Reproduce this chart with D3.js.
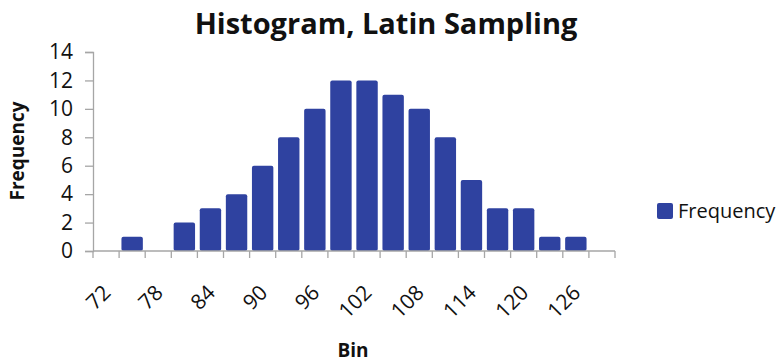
<!DOCTYPE html>
<html>
<head>
<meta charset="utf-8">
<script src="https://cdn.jsdelivr.net/npm/d3@7"></script>
<style>
  body { margin: 0; background: #fff; }
  text { font-family: "Open Sans", "DejaVu Sans", sans-serif; fill: #111; }
</style>
</head>
<body>
<div id="chart"></div>
<script>
// Data
var bins = [72, 75, 78, 81, 84, 87, 90, 93, 96, 99, 102, 105, 108, 111, 114, 117, 120, 123, 126, 129];
var counts = [0, 1, 0, 2, 3, 4, 6, 8, 10, 12, 12, 11, 10, 8, 5, 3, 3, 1, 1, 0];
var yTicks = [0, 2, 4, 6, 8, 10, 12, 14];
var shownLabels = [72, 78, 84, 90, 96, 102, 108, 114, 120, 126];

var width = 783, height = 364;
var barColor = "#2f42a0", axisColor = "#a6a6a6";

var svg = d3.select("#chart").append("svg")
    .attr("width", width)
    .attr("height", height);

var x = d3.scaleBand()
    .domain(bins)
    .range([93, 615])
    .paddingInner(0.18)
    .paddingOuter(0.09);

var y = d3.scaleLinear()
    .domain([0, 14])
    .range([251, 52]);

// bars
svg.append("g")
    .selectAll("rect")
    .data(bins.map(function(b, i) { return { bin: b, n: counts[i] }; }).filter(d => d.n > 0))
    .enter().append("rect")
    .attr("x", d => x(d.bin))
    .attr("y", d => y(d.n))
    .attr("width", x.bandwidth())
    .attr("height", d => y(0) - y(d.n))
    .attr("rx", 2)
    .attr("fill", barColor);

// y axis
var yAxis = svg.append("g")
    .attr("transform", "translate(93,0)")
    .call(d3.axisLeft(y).tickValues(yTicks).tickSize(8).tickPadding(12));
yAxis.select(".domain").attr("stroke", axisColor).attr("stroke-width", 1.3);
yAxis.selectAll(".tick line").attr("stroke", axisColor).attr("stroke-width", 1.3);
yAxis.selectAll(".tick text")
    .style("font-size", "21px")
    .style("font-family", "'Open Sans', sans-serif")
    .attr("fill", "#111");

// x axis: line plus tick marks at category boundaries
var x0 = 93, cw = 522 / bins.length;
var xg = svg.append("g");
xg.append("line")
    .attr("x1", 93).attr("x2", 615)
    .attr("y1", y(0)).attr("y2", y(0))
    .attr("stroke", axisColor).attr("stroke-width", 1.3);
xg.selectAll(".xt")
    .data(d3.range(bins.length + 1))
    .enter().append("line")
    .attr("x1", i => x0 + i * cw)
    .attr("x2", i => x0 + i * cw)
    .attr("y1", y(0)).attr("y2", y(0) + 7)
    .attr("stroke", axisColor).attr("stroke-width", 1.3);

xg.selectAll(".xl")
    .data(shownLabels)
    .enter().append("text")
    .attr("transform", d => "translate(" + (x0 + (bins.indexOf(d) + 0.5) * cw + 2) + "," + (y(0) + 39) + ") rotate(-45)")
    .attr("text-anchor", "end")
    .attr("dominant-baseline", "middle")
    .style("font-size", "21px")
    .text(d => d);

// titles
svg.append("text")
    .attr("x", 386).attr("y", 34)
    .attr("text-anchor", "middle")
    .style("font-size", "29px")
    .style("font-weight", "bold")
    .text("Histogram, Latin Sampling");

svg.append("text")
    .attr("transform", "translate(24,151) rotate(-90)")
    .attr("text-anchor", "middle")
    .style("font-size", "19px")
    .style("font-weight", "bold")
    .text("Frequency");

svg.append("text")
    .attr("x", 353).attr("y", 357)
    .attr("text-anchor", "middle")
    .style("font-size", "19px")
    .style("font-weight", "bold")
    .text("Bin");

// legend
var legend = svg.append("g").attr("transform", "translate(657,203)");
legend.append("rect")
    .attr("width", 16).attr("height", 16).attr("rx", 2)
    .attr("fill", barColor);
legend.append("text")
    .attr("x", 21).attr("y", 15)
    .style("font-size", "20px")
    .text("Frequency");
</script>
</body>
</html>
